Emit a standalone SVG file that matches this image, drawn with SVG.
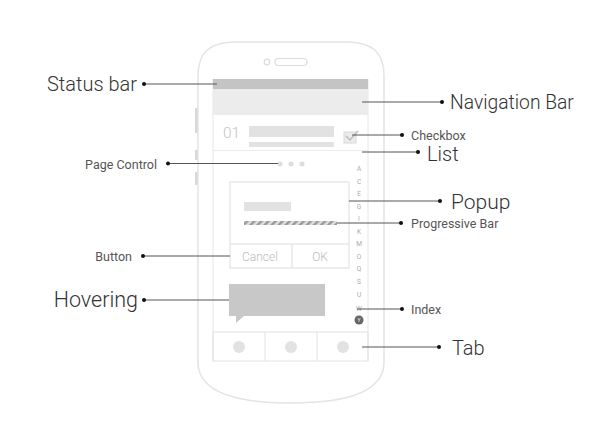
<svg xmlns="http://www.w3.org/2000/svg" width="600" height="446" viewBox="0 0 600 446">
  <style>
    .lbl{font-family:Roboto,"Liberation Sans",sans-serif;fill:#333;}
    .big{font-size:20px;font-weight:300;}
    .sm{font-size:12.5px;font-weight:400;fill:#555;}
    .conn{stroke:#555;stroke-width:1;fill:none;}
    .dot{fill:#111;}
    .faint{stroke:#e4e4e4;stroke-width:1.5;fill:none;}
    .line{stroke:#e6e6e6;stroke-width:1;fill:none;}
    .idx{font-family:Roboto,"Liberation Sans",sans-serif;font-size:6.5px;fill:#aaa;text-anchor:middle;}
    .btn{font-family:Roboto,"Liberation Sans",sans-serif;font-size:12px;fill:#bbb;text-anchor:middle;font-weight:300;}
  </style>
  <defs>
    <pattern id="stripes" width="5" height="5" patternUnits="userSpaceOnUse" patternTransform="rotate(45)">
      <rect width="5" height="5" fill="#e0e0e0"/>
      <rect width="2.5" height="5" fill="#999"/>
    </pattern>
  </defs>
  <rect width="600" height="446" fill="#fff"/>

  <g id="phone">
    <path class="faint" d="M198,76 C198,52 210,42 236,42 L346,42 C372,42 384,52 384,76 L384,362 C384,395 340,403 291,403 C242,403 198,395 198,362 Z"/>
    <rect x="195" y="108" width="2.5" height="25" fill="#d8d8d8"/>
    <rect x="195" y="150" width="2.5" height="10" fill="#d8d8d8"/>
    <rect x="195" y="172" width="2.5" height="13" fill="#d8d8d8"/>
    <circle cx="267" cy="62" r="2.8" fill="none" stroke="#dcdcdc" stroke-width="1.2"/>
    <rect x="275" y="58.5" width="32" height="7" rx="3.5" fill="none" stroke="#dcdcdc" stroke-width="1.2"/>
    <line class="line" x1="213" y1="79" x2="213" y2="361"/>
    <line class="line" x1="368" y1="79" x2="368" y2="361"/>
  </g>

  <g id="status-bar">
    <rect x="213" y="79" width="155" height="10" fill="#c4c4c4"/>
  </g>
  <g id="navigation-bar">
    <rect x="213" y="89" width="155" height="26" fill="#ececec"/>
  </g>
  <g id="list">
    <text x="223" y="138" font-family="Roboto,'Liberation Sans',sans-serif" font-size="15.5" font-weight="300" fill="#c4c4c4">01</text>
    <rect x="249" y="126" width="85" height="11" fill="#e2e2e2"/>
    <rect x="249" y="142" width="85" height="5" fill="#e2e2e2"/>
    <line x1="213" y1="150.5" x2="368" y2="150.5" stroke="#ececec" stroke-width="1"/>
  </g>
  <g id="checkbox">
    <rect x="344" y="132" width="12" height="11" fill="#ececec" stroke="#d8d8d8" stroke-width="1"/>
    <path d="M346,136 L350,140 L358,131" fill="none" stroke="#bbb" stroke-width="1.5"/>
  </g>
  <g id="page-control">
    <circle cx="280" cy="164" r="2.5" fill="#ddd"/>
    <circle cx="291" cy="164" r="2.5" fill="#ddd"/>
    <circle cx="302" cy="164" r="2.5" fill="#ddd"/>
  </g>
  <g id="popup">
    <rect x="230" y="182" width="119" height="86" fill="#fff" stroke="#ddd" stroke-width="1"/>
    <rect x="244" y="202" width="47" height="9" fill="#e2e2e2"/>
    <line x1="230" y1="244" x2="349" y2="244" stroke="#ddd"/>
    <line x1="292" y1="244" x2="292" y2="268" stroke="#ddd"/>
  </g>
  <g id="progressive-bar">
    <rect x="244" y="221" width="93" height="4" fill="url(#stripes)"/>
  </g>
  <g id="button">
    <text class="btn" x="260" y="261">Cancel</text>
    <text class="btn" x="320" y="261">OK</text>
  </g>
  <g id="index">
    <text class="idx" x="359" y="171">A</text>
    <text class="idx" x="359" y="184">C</text>
    <text class="idx" x="359" y="196">E</text>
    <text class="idx" x="359" y="209">G</text>
    <text class="idx" x="359" y="221">I</text>
    <text class="idx" x="359" y="234">K</text>
    <text class="idx" x="359" y="246">M</text>
    <text class="idx" x="359" y="259">O</text>
    <text class="idx" x="359" y="271">Q</text>
    <text class="idx" x="359" y="284">S</text>
    <text class="idx" x="359" y="297">U</text>
    <text class="idx" x="359" y="311">W</text>
    <circle cx="359" cy="320" r="4.5" fill="#666"/>
    <text class="idx" x="359" y="322" style="fill:#fff;font-size:5px">Y</text>
  </g>
  <g id="hovering">
    <rect x="229" y="284" width="96" height="32" fill="#c8c8c8"/>
    <path d="M236,315 L245,315 L236,323 Z" fill="#c8c8c8"/>
  </g>
  <g id="tab">
    <rect x="213" y="332" width="155" height="29" fill="none" stroke="#e2e2e2"/>
    <line x1="265" y1="332" x2="265" y2="361" stroke="#e2e2e2"/>
    <line x1="317" y1="332" x2="317" y2="361" stroke="#e2e2e2"/>
    <circle cx="239" cy="347" r="6" fill="#e2e2e2"/>
    <circle cx="291" cy="347" r="6" fill="#e2e2e2"/>
    <circle cx="343" cy="347" r="6" fill="#e2e2e2"/>
  </g>

  <g id="connectors">
    <line class="conn" x1="144" y1="84" x2="217" y2="84"/><circle class="dot" cx="144" cy="84" r="2"/>
    <line class="conn" x1="168" y1="163.5" x2="278" y2="163.5"/><circle class="dot" cx="168" cy="163.5" r="2"/>
    <line class="conn" x1="143" y1="256" x2="230" y2="256"/><circle class="dot" cx="143" cy="256" r="2"/>
    <line class="conn" x1="144" y1="300" x2="229" y2="300"/><circle class="dot" cx="144" cy="300" r="2"/>
    <line class="conn" x1="362" y1="102" x2="442" y2="102"/><circle class="dot" cx="442" cy="102" r="2"/>
    <line class="conn" x1="352" y1="135" x2="402" y2="135"/><circle class="dot" cx="402" cy="135" r="2"/>
    <line class="conn" x1="362" y1="152" x2="418" y2="152"/><circle class="dot" cx="418" cy="152" r="2"/>
    <line class="conn" x1="349" y1="201" x2="440" y2="201"/><circle class="dot" cx="440" cy="201" r="2"/>
    <line class="conn" x1="337" y1="223" x2="401" y2="223"/><circle class="dot" cx="401" cy="223" r="2"/>
    <line class="conn" x1="357" y1="309" x2="402" y2="309"/><circle class="dot" cx="402" cy="309" r="2"/>
    <line class="conn" x1="362" y1="347" x2="439" y2="347"/><circle class="dot" cx="439" cy="347" r="2"/>
  </g>

  <g id="labels">
    <text class="lbl big" x="137" y="91" text-anchor="end">Status bar</text>
    <text class="lbl sm" x="157" y="169" text-anchor="end">Page Control</text>
    <text class="lbl sm" x="132" y="261" text-anchor="end">Button</text>
    <text class="lbl big" x="138" y="307" text-anchor="end" style="font-size:21.5px">Hovering</text>
    <text class="lbl big" x="450" y="109" style="font-size:19.3px">Navigation Bar</text>
    <text class="lbl sm" x="411" y="140">Checkbox</text>
    <text class="lbl big" x="427" y="161">List</text>
    <text class="lbl big" x="451" y="209" style="font-size:21px">Popup</text>
    <text class="lbl sm" x="411" y="228">Progressive Bar</text>
    <text class="lbl sm" x="411" y="314">Index</text>
    <text class="lbl big" x="452" y="355">Tab</text>
  </g>
</svg>
